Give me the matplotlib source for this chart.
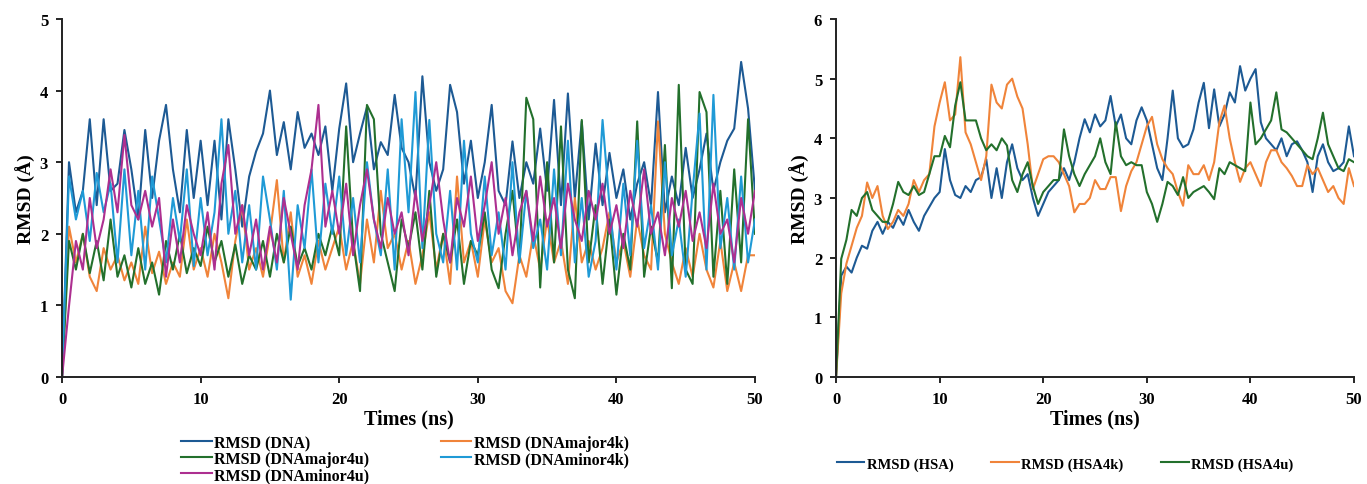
import numpy as np
import matplotlib
matplotlib.use("Agg")
import matplotlib.pyplot as plt

plt.rcParams['font.family'] = ['Liberation Serif', 'DejaVu Serif']
plt.rcParams['font.weight'] = 'bold'

# Time axis, 0.5 ns sampling
time_ns = np.arange(0, 50.01, 0.5)

# ---- DNA systems (left panel) ----
rmsd_dna = [
    0.0, 3.0, 2.3, 2.6, 3.6, 2.4, 3.6, 2.6, 2.7, 3.45,
    2.9, 2.2, 3.45, 2.5, 3.3, 3.8, 2.9, 2.3, 3.45, 2.5,
    3.3, 2.4, 3.3, 2.2, 3.6, 2.9, 2.1, 2.8, 3.15, 3.4,
    4.0, 3.1, 3.56, 2.9, 3.7, 3.2, 3.4, 3.1, 3.5, 2.6,
    3.47, 4.1, 3.0, 3.4, 3.77, 2.9, 3.28, 3.1, 3.94, 3.2,
    3.0, 2.5, 4.2, 3.0, 2.6, 2.9, 4.08, 3.7, 2.7, 3.3,
    2.5, 3.0, 3.8, 2.6, 2.4, 3.29, 2.5, 3.0, 2.7, 3.47,
    2.6, 3.87, 2.4, 3.96, 2.5, 3.57, 2.2, 3.26, 2.4, 3.13,
    2.5, 2.9, 2.2, 2.7, 3.0, 2.4, 3.98, 2.3, 2.8, 2.4,
    3.2, 2.5, 2.9, 3.4, 2.6, 3.0, 3.3, 3.47, 4.4, 3.75,
    2.6,
]
rmsd_dna_major4k = [
    0.0, 2.1, 1.6, 2.0, 1.4, 1.2, 1.8, 1.5, 1.7, 1.35,
    1.6, 1.3, 2.1, 1.45, 1.75, 1.3, 1.6, 1.4, 2.2, 1.5,
    1.8, 1.4, 2.0, 1.6, 1.1, 1.9, 2.4, 1.5, 1.8, 1.4,
    2.0, 2.75, 1.6, 2.3, 1.4, 1.7, 1.3, 1.9, 1.5, 1.8,
    2.1, 1.5, 1.9, 1.3, 2.2, 1.6, 2.6, 1.8, 2.0, 1.5,
    1.9, 1.3, 1.7, 2.3, 1.5, 2.0, 1.3, 2.8, 1.6, 1.9,
    1.4, 2.2, 1.6, 1.8, 1.2, 1.03, 1.7, 1.4, 2.0, 1.5,
    2.2, 1.6, 1.9, 1.3, 2.5, 1.6, 1.9, 1.5, 1.8, 2.3,
    1.6, 1.9, 1.4, 2.2, 1.7, 1.5, 3.57, 2.0, 1.6, 1.3,
    1.8, 1.4, 2.0, 1.5, 1.25, 1.9, 1.2, 1.6, 1.2, 1.7,
    1.7,
]
rmsd_dna_major4u = [
    0.0, 1.9, 1.5, 2.0, 1.45, 1.9, 1.35, 2.2, 1.4, 1.7,
    1.25, 1.8, 1.3, 1.6, 1.15, 1.9, 1.5, 2.0, 1.45, 1.8,
    1.55, 2.1, 1.6, 1.9, 1.4, 1.85, 1.3, 1.7, 1.5, 1.9,
    1.4, 2.0, 1.6, 2.1, 1.55, 1.8, 1.5, 2.0, 1.7, 2.1,
    1.7, 3.5, 1.9, 1.2, 3.8, 3.6, 2.0, 1.6, 1.2, 2.2,
    1.8, 2.3, 1.5, 2.6, 1.4, 2.0, 1.6, 2.2, 1.3, 1.9,
    1.7, 2.3, 1.5, 1.24, 2.0, 2.6, 1.6, 3.9, 3.6, 1.25,
    3.0, 1.6, 3.5, 1.5, 1.1, 3.59, 1.6, 2.4, 1.3, 2.2,
    1.15, 2.0, 1.5, 3.57, 1.4, 2.1, 1.6, 3.24, 1.24, 4.08,
    1.5, 1.3, 3.98, 3.7, 1.4, 2.6, 1.3, 2.9, 1.6, 3.6,
    2.0,
]
rmsd_dna_minor4k = [
    0.0, 2.8, 2.2, 2.6, 1.9, 2.85, 2.3, 2.7, 1.6, 2.9,
    1.7, 2.6, 1.5, 2.8, 2.2, 1.6, 2.5, 1.9, 2.9, 1.55,
    2.5, 1.7, 2.3, 3.6, 2.0, 2.6, 1.6, 2.4, 1.5, 2.8,
    2.2, 1.5, 2.6, 1.08, 2.4, 1.8, 2.9, 1.6, 2.7, 2.0,
    2.8, 1.7, 2.5, 1.6, 3.0, 2.2, 1.7, 2.9, 1.5, 3.6,
    2.3, 3.98, 1.8, 3.59, 2.0, 1.6, 2.6, 1.5, 3.3, 2.0,
    1.6, 2.8, 1.7, 2.3, 1.5, 3.0, 1.6, 2.6, 1.8, 2.2,
    1.5, 2.9, 1.7, 3.3, 1.6, 2.5, 1.4, 1.9, 3.59, 2.4,
    1.5, 2.7, 1.7, 3.3, 1.8, 2.4, 1.5, 3.0, 1.7, 2.2,
    1.4, 2.6, 3.68, 1.5, 3.94, 1.8, 2.5, 1.5, 2.8, 1.6,
    2.2,
]
rmsd_dna_minor4u = [
    0.0, 0.99, 1.9, 1.5, 2.5, 1.8, 2.2, 2.9, 2.3, 3.38,
    2.4, 2.2, 2.6, 2.1, 2.5, 1.4, 2.2, 1.6, 2.4, 2.0,
    1.7, 2.3, 1.5, 2.7, 3.24, 2.0, 2.4, 1.7, 2.2, 1.5,
    2.1, 1.6, 2.5, 2.0, 1.5, 2.4, 2.9, 3.8, 2.1, 2.6,
    2.0, 2.7, 1.7, 2.4, 2.9, 2.2, 1.8, 2.5, 2.0, 2.3,
    1.7, 2.6, 1.9, 2.4, 3.0, 2.2, 1.6, 2.5, 2.1, 2.8,
    1.9, 2.4, 3.0, 2.0, 2.5, 1.7, 2.3, 2.6, 1.9, 2.8,
    2.1, 2.5, 1.8, 2.7, 2.2, 1.9, 2.6, 2.2, 2.7, 2.0,
    2.4, 1.8, 2.6, 2.1, 2.9, 2.0, 2.3, 1.7, 2.5, 2.1,
    2.6, 1.9, 2.3, 1.8, 2.7, 2.0, 2.2, 1.6, 2.5, 2.0,
    2.6,
]

# ---- HSA systems (right panel) ----
rmsd_hsa = [
    0.0, 1.7, 1.85, 1.75, 2.0, 2.2, 2.15, 2.45, 2.6, 2.4,
    2.6, 2.5, 2.7, 2.55, 2.8, 2.6, 2.45, 2.7, 2.85, 3.0,
    3.1, 3.82, 3.3, 3.05, 3.0, 3.2, 3.1, 3.3, 3.35, 3.65,
    3.0, 3.5, 3.0, 3.6, 3.9, 3.5, 3.3, 3.4, 3.0, 2.7,
    2.9, 3.1, 3.2, 3.3, 3.5, 3.3, 3.6, 4.0, 4.32, 4.1,
    4.4, 4.2, 4.3, 4.71, 4.2, 4.4, 4.0, 3.9, 4.3, 4.52,
    4.3, 3.9, 3.5, 3.3, 4.0, 4.8, 4.0, 3.85, 3.9, 4.15,
    4.6, 4.93, 4.17, 4.82, 4.2, 4.4, 4.77, 4.6, 5.21, 4.8,
    5.0, 5.16, 4.27, 4.0, 3.9, 3.8, 4.0, 3.7, 3.9, 3.95,
    3.8, 3.6, 3.1, 3.7, 3.9, 3.6, 3.45, 3.5, 3.6, 4.2,
    3.7,
]
rmsd_hsa4k = [
    0.0, 1.4, 1.9, 2.2, 2.5, 2.7, 3.26, 3.0, 3.2, 2.7,
    2.48, 2.6, 2.8, 2.7, 2.9, 3.3, 3.1, 3.3, 3.4, 4.2,
    4.6, 4.94, 4.3, 4.4, 5.36, 4.1, 3.9, 3.6, 3.3, 3.7,
    4.9, 4.6, 4.5, 4.9, 5.0, 4.7, 4.5, 3.9, 3.15, 3.4,
    3.65, 3.7, 3.7, 3.6, 3.4, 3.2, 2.76, 2.9, 2.9, 3.0,
    3.3, 3.15, 3.15, 3.35, 3.35, 2.78, 3.2, 3.45, 3.6, 3.9,
    4.2, 4.36, 3.9, 3.65, 3.5, 3.4, 3.1, 2.87, 3.55, 3.4,
    3.4, 3.55, 3.3, 3.6, 4.27, 4.55, 4.0, 3.6, 3.27, 3.5,
    3.6, 3.4, 3.2, 3.6, 3.8, 3.8, 3.6, 3.5, 3.37, 3.2,
    3.2, 3.55, 3.4, 3.5, 3.3, 3.1, 3.2, 3.0, 2.9, 3.5,
    3.2,
]
rmsd_hsa4u = [
    0.0, 1.98, 2.3, 2.8, 2.7, 3.0, 3.1, 2.8, 2.7, 2.6,
    2.6, 2.9, 3.27, 3.1, 3.05, 3.2, 3.05, 3.1, 3.4, 3.7,
    3.7, 4.04, 3.85, 4.55, 4.94, 4.3, 4.3, 4.3, 4.0, 3.8,
    3.9, 3.8, 4.0, 3.88, 3.3, 3.1, 3.4, 3.6, 3.2, 2.9,
    3.1, 3.2, 3.3, 3.3, 4.15, 3.7, 3.4, 3.2, 3.4, 3.55,
    3.7, 4.0, 3.6, 3.4, 4.27, 3.7, 3.55, 3.6, 3.55, 3.55,
    3.1, 2.9, 2.6, 2.9, 3.27, 3.2, 3.05, 3.35, 3.0, 3.1,
    3.15, 3.2, 3.1, 2.98, 3.5, 3.4, 3.6, 3.55, 3.5, 3.45,
    4.6, 3.9, 4.0, 4.15, 4.3, 4.77, 4.15, 4.1, 4.0, 3.9,
    3.8, 3.7, 3.65, 4.0, 4.43, 3.9, 3.7, 3.5, 3.45, 3.65,
    3.6,
]

dna_labels = ["RMSD (DNA)", "RMSD (DNAmajor4k)", "RMSD (DNAmajor4u)",
              "RMSD (DNAminor4k)", "RMSD (DNAminor4u)"]
dna_colors = ["#1d5a94", "#f0843a", "#23702c", "#1f9ad6", "#ad2f90"]
hsa_labels = ["RMSD (HSA)", "RMSD (HSA4k)", "RMSD (HSA4u)"]
hsa_colors = ["#1d5a94", "#f0843a", "#23702c"]

fig = plt.figure(figsize=(13.67, 4.85), dpi=100)
ax1 = fig.add_axes([0.0454, 0.2206, 0.5069, 0.7382])
ax2 = fig.add_axes([0.6116, 0.2206, 0.3789, 0.7382])

lw = 1.5
dna_series = [rmsd_dna, rmsd_dna_major4k, rmsd_dna_major4u,
              rmsd_dna_minor4k, rmsd_dna_minor4u]
dna_lines = []
for vals, lab, col in zip(dna_series, dna_labels, dna_colors):
    ln, = ax1.plot(time_ns, vals, color=col, lw=lw, label=lab)
    dna_lines.append(ln)

hsa_series = [rmsd_hsa, rmsd_hsa4k, rmsd_hsa4u]
hsa_lines = []
for vals, lab, col in zip(hsa_series, hsa_labels, hsa_colors):
    ln, = ax2.plot(time_ns, vals, color=col, lw=lw, label=lab)
    hsa_lines.append(ln)

for ax, ymax in ((ax1, 5), (ax2, 6)):
    ax.set_xlim(0, 50)
    ax.set_ylim(0, ymax)
    ax.set_xticks(range(0, 51, 10))
    ax.set_yticks(range(0, ymax + 1))
    for s in ("top", "right"):
        ax.spines[s].set_visible(False)
    for s in ("left", "bottom"):
        ax.spines[s].set_linewidth(1.4)
        ax.spines[s].set_color("#222222")
    ax.tick_params(direction="out", length=4, width=1.2, labelsize=12, pad=6)
    for lbl in ax.get_xticklabels() + ax.get_yticklabels():
        lbl.set_fontweight("bold")
    ax.set_xlabel("Times (ns)", fontsize=14.5, fontweight="bold", labelpad=1)
    ax.set_ylabel("RMSD (Å)", fontsize=14, fontweight="bold", labelpad=3)

# Legends below each panel
order = [0, 2, 4, 1, 3]
fig.legend([dna_lines[i] for i in order], [dna_labels[i] for i in order],
           loc="center", bbox_to_anchor=(405 / 1367, 1 - 460 / 485), ncol=2,
           frameon=False, prop={"family": "Liberation Serif", "weight": "bold", "size": 11.5},
           handlelength=1.9, handletextpad=0.15, columnspacing=4.5,
           labelspacing=0.0, borderpad=0.1)
fig.legend(hsa_lines, hsa_labels,
           loc="center", bbox_to_anchor=(1065 / 1367, 1 - 465 / 485), ncol=3,
           frameon=False, prop={"family": "Liberation Serif", "weight": "bold", "size": 10.5},
           handlelength=1.9, handletextpad=0.15, columnspacing=2.6, borderpad=0.1)

fig.savefig("out.png", dpi=100, facecolor="white")
